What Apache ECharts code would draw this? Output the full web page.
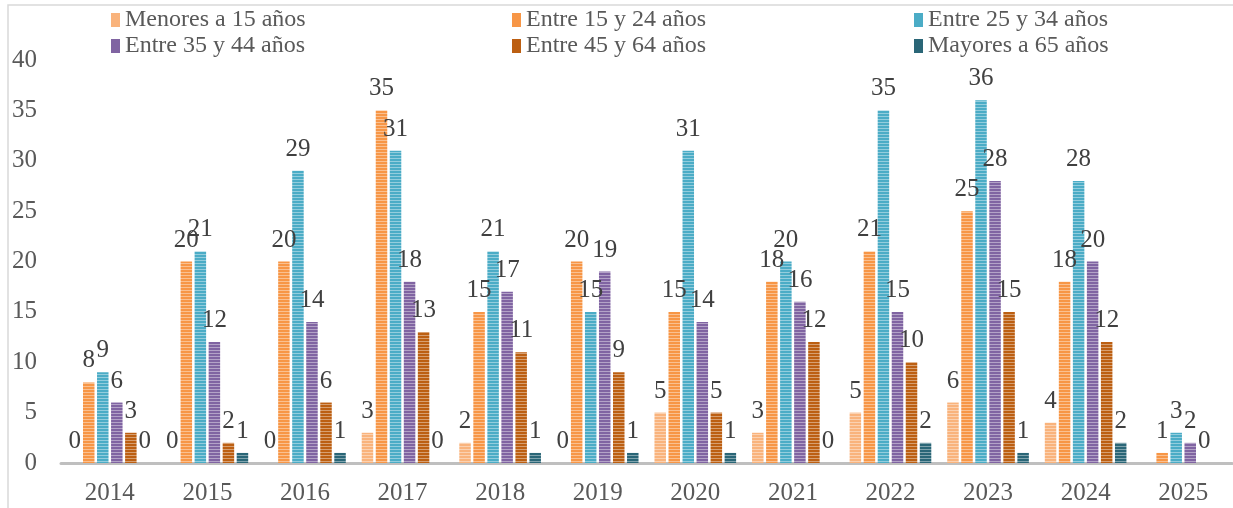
<!DOCTYPE html>
<html>
<head>
<meta charset="utf-8">
<script src="https://cdn.jsdelivr.net/npm/echarts@6/dist/echarts.min.js"></script>
<style>
    html, body { margin: 0; padding: 0; background: #fff; }
    #chart { width: 1233px; height: 508px; }
</style>
</head>
<body>
<div id="chart"></div>
<script>
    // datos del gráfico
    var years = ['2014', '2015', '2016', '2017', '2018', '2019', '2020', '2021', '2022', '2023', '2024', '2025'];
    var seriesNames = ['Menores a 15 años', 'Entre 15 y 24 años', 'Entre 25 y 34 años',
        'Entre 35 y 44 años', 'Entre 45 y 64 años', 'Mayores a 65 años'];
    var menores15 = [0, 0, 0, 3, 2, 0, 5, 3, 5, 6, 4, null];
    var entre15y24 = [8, 20, 20, 35, 15, 20, 15, 18, 21, 25, 18, 1];
    var entre25y34 = [9, 21, 29, 31, 21, 15, 31, 20, 35, 36, 28, 3];
    var entre35y44 = [6, 12, 14, 18, 17, 19, 14, 16, 15, 28, 20, 2];
    var entre45y64 = [3, 2, 6, 13, 11, 9, 5, 12, 10, 15, 12, 0];
    var mayores65 = [0, 1, 1, 0, 1, 1, 1, 0, 2, 1, 2, null];
    var yTicks = {min: 0, max: 40, interval: 5};

    var colors = ['#F9B37C', '#F79646', '#4BACC6', '#8064A2', '#BC5F12', '#2A6677'];
    var values = [menores15, entre15y24, entre25y34, entre35y44, entre45y64, mayores65];

    // rayado horizontal como en el original
    function stripe(color) {
        var c = document.createElement('canvas');
        c.width = 4;
        c.height = 3;
        var ctx = c.getContext('2d');
        ctx.fillStyle = color;
        ctx.fillRect(0, 0, 4, 3);
        ctx.fillStyle = 'rgba(255,255,255,0.4)';
        ctx.fillRect(0, 2, 4, 1);
        return {image: c, repeat: 'repeat'};
    }

    var fontFam = '"Liberation Serif", serif';
    var chart = echarts.init(document.getElementById('chart'));

    var series = values.map(function (data, i) {
        return {
            name: seriesNames[i],
            type: 'bar',
            data: data,
            barWidth: 11.5,
            barGap: '22%',
            itemStyle: {color: stripe(colors[i])},
            label: {
                show: true,
                position: 'top',
                distance: 9,
                color: '#404040',
                fontFamily: fontFam,
                fontSize: 25
            }
        };
    });

    var legendPos = [[111, 8], [512, 8], [914, 8], [111, 34], [512, 34], [914, 34]];
    var legends = seriesNames.map(function (name, i) {
        return {
            data: [{name: name, itemStyle: {color: colors[i]}}],
            left: legendPos[i][0],
            top: legendPos[i][1],
            icon: 'rect',
            itemWidth: 9,
            itemHeight: 14,
            itemGap: 4,
            padding: 0,
            selectedMode: false,
            textStyle: {color: '#595959', fontFamily: fontFam, fontSize: 24}
        };
    });

    chart.setOption({
        animation: false,
        legend: legends,
        graphic: [{
            type: 'polyline',
            shape: {points: [[8, 508], [8, 5], [1240, 5]]},
            style: {stroke: '#D9D9D9', lineWidth: 1.5, fill: null}
        }],
        grid: {left: 61, right: 1, top: 60, bottom: 45},
        xAxis: {
            type: 'category',
            data: years,
            axisLine: {lineStyle: {color: '#BFBFBF', width: 3}},
            axisTick: {show: false},
            axisLabel: {color: '#595959', fontFamily: fontFam, fontSize: 25, margin: 18}
        },
        yAxis: {
            type: 'value',
            min: yTicks.min,
            max: yTicks.max,
            interval: yTicks.interval,
            axisLine: {show: false},
            axisTick: {show: false},
            splitLine: {show: false},
            axisLabel: {color: '#595959', fontFamily: fontFam, fontSize: 25, margin: 24}
        },
        series: series
    });
</script>
</body>
</html>
